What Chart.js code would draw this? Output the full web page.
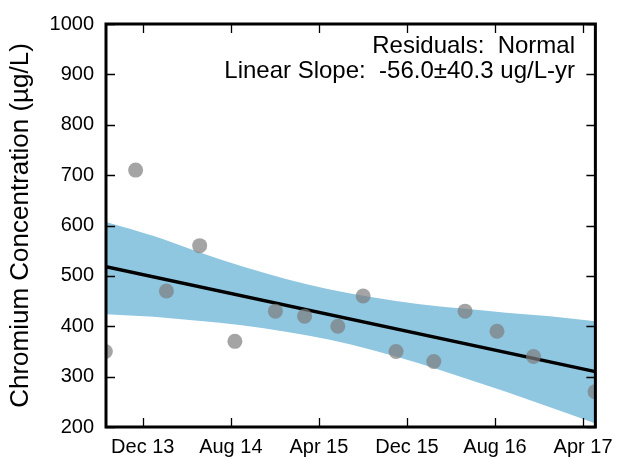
<!DOCTYPE html>
<html>
<head>
<meta charset="utf-8">
<script src="https://cdn.jsdelivr.net/npm/chart.js@4/dist/chart.umd.min.js"></script>
<style>
  body { margin: 0; background: #fff; }
  canvas { display: block; }
</style>
</head>
<body>
<canvas id="chart" width="621" height="459"></canvas>
<script>
// x values are months counted from Jan 2013 (Dec 13 = 11)
let tickMonths = [11, 19, 27, 35, 43, 51];
let tickLabels = ["Dec 13", "Aug 14", "Apr 15", "Dec 15", "Aug 16", "Apr 17"];

let sampleMonths = [7.6, 10.35, 13.15, 16.17, 19.37, 23.05, 25.7, 28.72, 31.02, 34.01, 37.44, 40.28, 43.18, 46.5, 52.09];
let chromium = [350, 710, 470, 560, 370, 430, 420, 400, 460, 350, 330, 430, 390, 340, 270];

let trendMonths = [7.66, 52.12];
let trendValues = [518, 310];

let bandMonths = [7.66, 12, 16, 20, 24, 28, 32, 36, 40, 44, 48, 52.12];
let bandUpper = [607, 579, 548, 519, 494, 473, 457, 444, 435, 427, 420, 410];
let bandLower = [424, 419, 411, 402, 389, 373, 352, 327, 299, 270, 239, 207];

let fontFamily = '"Liberation Sans", Arial, sans-serif';

function pairs(xs, ys) {
    let out = [];
    for (let i = 0; i < xs.length; i++) {
        out.push({ x: xs[i], y: ys[i] });
    }
    return out;
}

// frame, inward tick marks and the text box
let framePlugin = {
    id: 'frame',
    afterDatasetsDraw(chart) {
        let ctx = chart.ctx;
        let area = chart.chartArea;
        let xs = chart.scales.x;
        let ys = chart.scales.y;
        let tick = 9;
        ctx.save();
        ctx.strokeStyle = '#000';
        ctx.lineWidth = 1.3;
        ctx.beginPath();
        xs.ticks.forEach(t => {
            let px = Math.round(xs.getPixelForValue(t.value)) + 0.5;
            ctx.moveTo(px, area.bottom);
            ctx.lineTo(px, area.bottom - tick);
            ctx.moveTo(px, area.top);
            ctx.lineTo(px, area.top + tick);
        });
        ys.ticks.forEach(t => {
            let py = Math.round(ys.getPixelForValue(t.value)) + 0.5;
            ctx.moveTo(area.left, py);
            ctx.lineTo(area.left + tick, py);
            ctx.moveTo(area.right, py);
            ctx.lineTo(area.right - tick, py);
        });
        ctx.stroke();
        ctx.lineWidth = 3;
        ctx.strokeRect(area.left, area.top, area.right - area.left, area.bottom - area.top);

        ctx.fillStyle = '#000';
        ctx.font = '24px ' + fontFamily;
        ctx.textAlign = 'right';
        ctx.textBaseline = 'middle';
        ctx.fillText('Residuals:  Normal', 575, 46);
        ctx.fillText('Linear Slope:  -56.0\u00b140.3 ug/L-yr', 575, 71);
        ctx.restore();
    }
};

let ctx = document.getElementById('chart').getContext('2d');
let chart = new Chart(ctx, {
    type: 'scatter',
    data: {
        datasets: [{
            label: 'Samples',
            data: pairs(sampleMonths, chromium),
            pointRadius: 7.5,
            pointHoverRadius: 7.5,
            backgroundColor: 'rgba(125,125,125,0.7)',
            borderWidth: 0,
            clip: 0
        }, {
            type: 'line',
            label: 'Trend',
            data: pairs(trendMonths, trendValues),
            borderColor: '#000',
            borderWidth: 3.5,
            pointRadius: 0,
            fill: false,
            clip: 0
        }, {
            type: 'line',
            label: 'Upper',
            data: pairs(bandMonths, bandUpper),
            borderWidth: 0,
            borderColor: 'rgba(0,0,0,0)',
            pointRadius: 0,
            cubicInterpolationMode: 'monotone',
            fill: false,
            clip: 0
        }, {
            type: 'line',
            label: 'Lower',
            data: pairs(bandMonths, bandLower),
            borderWidth: 0,
            borderColor: 'rgba(0,0,0,0)',
            backgroundColor: 'rgb(143,198,224)',
            pointRadius: 0,
            cubicInterpolationMode: 'monotone',
            fill: '-1',
            clip: 0
        }]
    },
    options: {
        responsive: false,
        animation: false,
        layout: {
            padding: { top: 16, right: 19, left: 0, bottom: 0 }
        },
        plugins: {
            legend: { display: false },
            tooltip: { enabled: false }
        },
        scales: {
            x: {
                type: 'linear',
                min: 7.66,
                max: 52.12,
                grid: { display: false, drawTicks: false },
                border: { display: false },
                afterBuildTicks: (scale) => {
                    scale.ticks = tickMonths.map(v => ({ value: v }));
                },
                afterFit: (scale) => { scale.height = 32; },
                ticks: {
                    autoSkip: false,
                    maxRotation: 0,
                    minRotation: 0,
                    padding: 8,
                    color: '#000',
                    font: { family: fontFamily, size: 20 },
                    callback: (value) => {
                        let i = tickMonths.indexOf(value);
                        return i >= 0 ? tickLabels[i] : '';
                    }
                }
            },
            y: {
                min: 200,
                max: 1000,
                grid: { display: false, drawTicks: false },
                border: { display: false },
                afterFit: (scale) => { scale.width = 106; },
                ticks: {
                    stepSize: 100,
                    padding: 12,
                    color: '#000',
                    font: { family: fontFamily, size: 20 },
                    callback: (value) => String(value)
                },
                title: {
                    display: true,
                    text: 'Chromium Concentration (\u00b5g/L)',
                    color: '#000',
                    font: { family: fontFamily, size: 26 },
                    padding: { top: 5, bottom: 0 }
                }
            }
        }
    },
    plugins: [framePlugin]
});
</script>
</body>
</html>
